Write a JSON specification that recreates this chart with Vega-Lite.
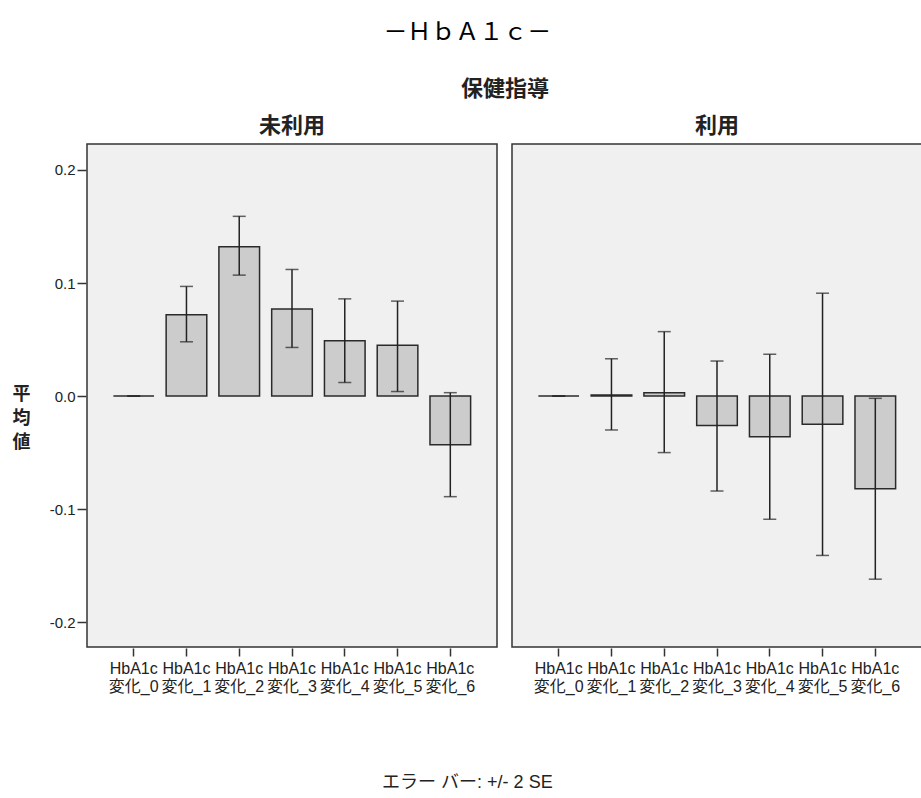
{
  "$schema": "https://vega.github.io/schema/vega-lite/v6.json",
  "background": "white",
  "padding": {"left": 12, "top": 21, "right": 0, "bottom": 5},
  "title": {"text": "－ＨｂＡ１ｃ－", "fontSize": 24, "fontWeight": "normal", "font": "Noto Sans CJK JP", "color": "#000000", "anchor": "middle", "offset": 33},
  "vconcat": [
    {
      "title": {"text": "エラー バー: +/- 2 SE", "orient": "bottom", "fontSize": 18, "fontWeight": "normal", "font": "Liberation Sans, Noto Sans CJK JP", "color": "#222222", "offset": 80, "anchor": "middle"},
      "data": {
        "values": [
          {"group": "未利用", "var": "HbA1c変化_0", "mean": 0.0, "lo": 0.0, "hi": 0.0},
          {"group": "未利用", "var": "HbA1c変化_1", "mean": 0.072, "lo": 0.048, "hi": 0.097},
          {"group": "未利用", "var": "HbA1c変化_2", "mean": 0.132, "lo": 0.107, "hi": 0.159},
          {"group": "未利用", "var": "HbA1c変化_3", "mean": 0.077, "lo": 0.043, "hi": 0.112},
          {"group": "未利用", "var": "HbA1c変化_4", "mean": 0.049, "lo": 0.012, "hi": 0.086},
          {"group": "未利用", "var": "HbA1c変化_5", "mean": 0.045, "lo": 0.004, "hi": 0.084},
          {"group": "未利用", "var": "HbA1c変化_6", "mean": -0.043, "lo": -0.089, "hi": 0.003},
          {"group": "利用", "var": "HbA1c変化_0", "mean": 0.0, "lo": 0.0, "hi": 0.0},
          {"group": "利用", "var": "HbA1c変化_1", "mean": 0.001, "lo": -0.030, "hi": 0.033},
          {"group": "利用", "var": "HbA1c変化_2", "mean": 0.003, "lo": -0.050, "hi": 0.057},
          {"group": "利用", "var": "HbA1c変化_3", "mean": -0.026, "lo": -0.084, "hi": 0.031},
          {"group": "利用", "var": "HbA1c変化_4", "mean": -0.036, "lo": -0.109, "hi": 0.037},
          {"group": "利用", "var": "HbA1c変化_5", "mean": -0.025, "lo": -0.141, "hi": 0.091},
          {"group": "利用", "var": "HbA1c変化_6", "mean": -0.082, "lo": -0.162, "hi": -0.002}
        ]
      },
      "facet": {
        "column": {
          "field": "group", "type": "nominal", "sort": ["未利用", "利用"], "title": "保健指導",
          "header": {
            "titleFontSize": 22, "titleFont": "Noto Sans CJK JP", "titleFontWeight": "bold", "titleColor": "#222222", "titlePadding": 4,
            "labelFontSize": 22, "labelFont": "Noto Sans CJK JP", "labelFontWeight": "bold", "labelColor": "#222222", "labelPadding": 5
          }
        }
      },
      "spacing": 13,
      "spec": {
        "width": 410,
        "height": 503,
        "encoding": {
          "x": {
            "field": "var", "type": "nominal", "sort": null,
            "scale": {"paddingInner": 0.23, "paddingOuter": 0.5},
            "axis": {
              "title": null, "labelAngle": 0, "labelAlign": "center", "labelBaseline": "top",
              "labelExpr": "['HbA1c', replace(datum.label, 'HbA1c', '')]",
              "labelFontSize": 16, "labelLineHeight": 18, "labelPadding": 4,
              "tickSize": 8, "tickWidth": 1.5, "tickColor": "#333333", "domain": false, "labelColor": "#222222"
            }
          }
        },
        "layer": [
          {
            "mark": {"type": "bar", "fill": "#cccccc", "stroke": "#2a2a2a", "strokeWidth": 1.5},
            "encoding": {
              "y": {
                "field": "mean", "type": "quantitative",
                "scale": {"domain": [-0.222, 0.223], "nice": false, "zero": false},
                "axis": {
                  "title": ["平", "均", "値"], "titleAngle": 0, "titleFontSize": 18, "titleFontWeight": "bold",
                  "titleFont": "Noto Sans CJK JP", "titleColor": "#222222", "titleAlign": "center", "titleBaseline": "middle",
                  "titleLineHeight": 24, "titleX": -65, "titleY": 250,
                  "values": [-0.2, -0.1, 0, 0.1, 0.2], "format": ".1f",
                  "labelExpr": "replace(datum.label, '−', '-')",
                  "grid": false, "domain": false,
                  "tickSize": 9, "tickWidth": 1.5, "tickColor": "#333333", "labelFontSize": 15, "labelPadding": 2, "labelColor": "#222222"
                }
              },
              "y2": {"datum": 0}
            }
          },
          {
            "mark": {"type": "rule", "color": "#222222", "strokeWidth": 1.5},
            "encoding": {
              "y": {"field": "lo", "type": "quantitative"},
              "y2": {"field": "hi"}
            }
          },
          {
            "mark": {"type": "tick", "color": "#222222", "size": 13, "thickness": 1.5},
            "encoding": {
              "y": {"field": "lo", "type": "quantitative"}
            }
          },
          {
            "mark": {"type": "tick", "color": "#222222", "size": 13, "thickness": 1.5},
            "encoding": {
              "y": {"field": "hi", "type": "quantitative"}
            }
          }
        ]
      }
    }
  ],
  "config": {
    "view": {"stroke": "#333333", "strokeWidth": 1.5, "fill": "#f0f0f0"},
    "axis": {"labelFont": "Liberation Sans, Noto Sans CJK JP"},
    "tick": {"bandSize": 13}
  }
}
